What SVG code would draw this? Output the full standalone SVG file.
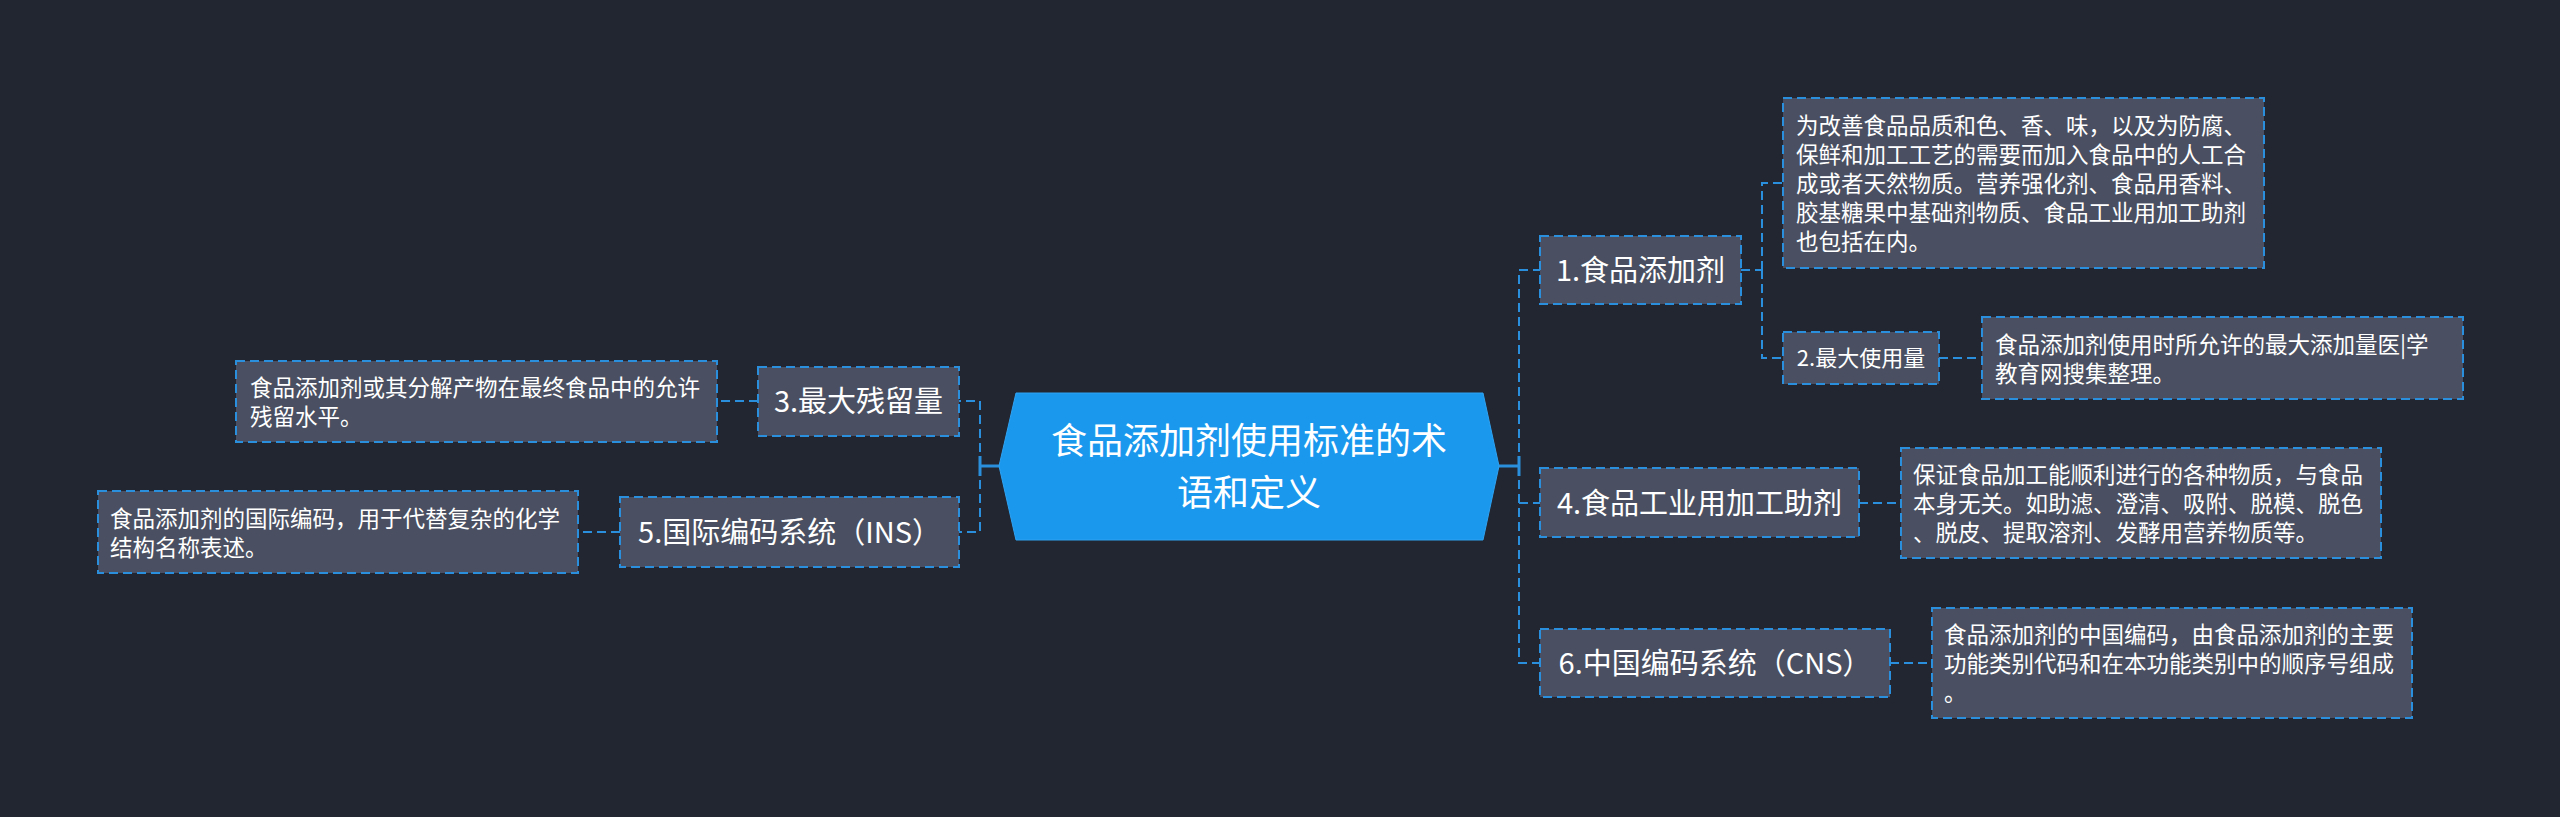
<svg xmlns="http://www.w3.org/2000/svg" width="2560" height="817" viewBox="0 0 2560 817">
<style>
.bg{fill:#222631}
.box{fill:#4a5061;stroke:#2a8fdc;stroke-width:2;stroke-dasharray:9 5}
.conn{fill:none;stroke:#2a8fdc;stroke-width:2;stroke-dasharray:9 5}
.solid{fill:none;stroke:#2a8fdc;stroke-width:3}
.t{font-family:"Noto Sans CJK SC","Noto Sans",sans-serif;fill:#ffffff}
.l1{font-size:29px;text-anchor:middle}
.l2{font-size:22px;text-anchor:middle}
.d{font-size:22.5px}
.root{font-size:36px;text-anchor:middle}
</style>
<rect class="bg" x="0" y="0" width="2560" height="817"/>
<g id="connectors">
<path class="solid" d="M1497,466 H1519 M1519,456 V476"/>
<path class="solid" d="M1001,466 H980 M980,456 V476"/>
<path class="conn" d="M1519,466 V270 H1540"/>
<path class="conn" d="M1519,466 V663 H1540"/>
<path class="conn" d="M1519,503 H1540"/>
<path class="conn" d="M1741,270 H1762"/>
<path class="conn" d="M1762,270 V183 H1783"/>
<path class="conn" d="M1762,270 V358 H1783"/>
<path class="conn" d="M1939,358 H1982"/>
<path class="conn" d="M1859,503 H1901"/>
<path class="conn" d="M1890,663 H1932"/>
<path class="conn" d="M980,466 V401 H959"/>
<path class="conn" d="M980,466 V532 H959"/>
<path class="conn" d="M758,401 H717"/>
<path class="conn" d="M620,532 H578"/>
</g>
<g id="root">
<polygon points="1016,393 1483,393 1499,466 1483,540 1016,540 999,466" fill="#1a98ee" stroke="#2fa3f2" stroke-width="1"/>
<text class="t root" x="1249" y="454">食品添加剂使用标准的术</text>
<text class="t root" x="1249" y="506">语和定义</text>
</g>
<g id="n1">
<rect class="box" x="1540" y="236" width="201" height="68"/>
<text class="t l1" x="1640.5" y="281">1.食品添加剂</text>
</g>
<g id="d1">
<rect class="box" x="1783" y="98" width="481" height="170"/>
<text class="t d" x="1796" y="134">为改善食品品质和色、香、味，以及为防腐、</text>
<text class="t d" x="1796" y="163">保鲜和加工工艺的需要而加入食品中的人工合</text>
<text class="t d" x="1796" y="192">成或者天然物质。营养强化剂、食品用香料、</text>
<text class="t d" x="1796" y="221">胶基糖果中基础剂物质、食品工业用加工助剂</text>
<text class="t d" x="1796" y="250">也包括在内。</text>
</g>
<g id="n2">
<rect class="box" x="1783" y="332" width="156" height="52"/>
<text class="t l2" x="1861" y="366">2.最大使用量</text>
</g>
<g id="d2">
<rect class="box" x="1982" y="317" width="481" height="82"/>
<text class="t d" x="1995" y="353">食品添加剂使用时所允许的最大添加量医|学</text>
<text class="t d" x="1995" y="382">教育网搜集整理。</text>
</g>
<g id="n4">
<rect class="box" x="1540" y="468" width="319" height="69"/>
<text class="t l1" x="1699.5" y="514">4.食品工业用加工助剂</text>
</g>
<g id="d4">
<rect class="box" x="1901" y="448" width="480" height="110"/>
<text class="t d" x="1913" y="483">保证食品加工能顺利进行的各种物质，与食品</text>
<text class="t d" x="1913" y="512">本身无关。如助滤、澄清、吸附、脱模、脱色</text>
<text class="t d" x="1913" y="541">、脱皮、提取溶剂、发酵用营养物质等。</text>
</g>
<g id="n6">
<rect class="box" x="1540" y="629" width="350" height="68"/>
<text class="t l1" x="1715" y="674">6.中国编码系统（CNS）</text>
</g>
<g id="d6">
<rect class="box" x="1932" y="608" width="480" height="110"/>
<text class="t d" x="1944" y="643">食品添加剂的中国编码，由食品添加剂的主要</text>
<text class="t d" x="1944" y="672">功能类别代码和在本功能类别中的顺序号组成</text>
<text class="t d" x="1944" y="701">。</text>
</g>
<g id="n3">
<rect class="box" x="758" y="367" width="201" height="69"/>
<text class="t l1" x="858.5" y="412">3.最大残留量</text>
</g>
<g id="d3">
<rect class="box" x="236" y="361" width="481" height="81"/>
<text class="t d" x="250" y="396">食品添加剂或其分解产物在最终食品中的允许</text>
<text class="t d" x="250" y="425">残留水平。</text>
</g>
<g id="n5">
<rect class="box" x="620" y="497" width="339" height="70"/>
<text class="t l1" x="789.5" y="543">5.国际编码系统（INS）</text>
</g>
<g id="d5">
<rect class="box" x="98" y="491" width="480" height="82"/>
<text class="t d" x="110" y="527">食品添加剂的国际编码，用于代替复杂的化学</text>
<text class="t d" x="110" y="556">结构名称表述。</text>
</g>
</svg>
